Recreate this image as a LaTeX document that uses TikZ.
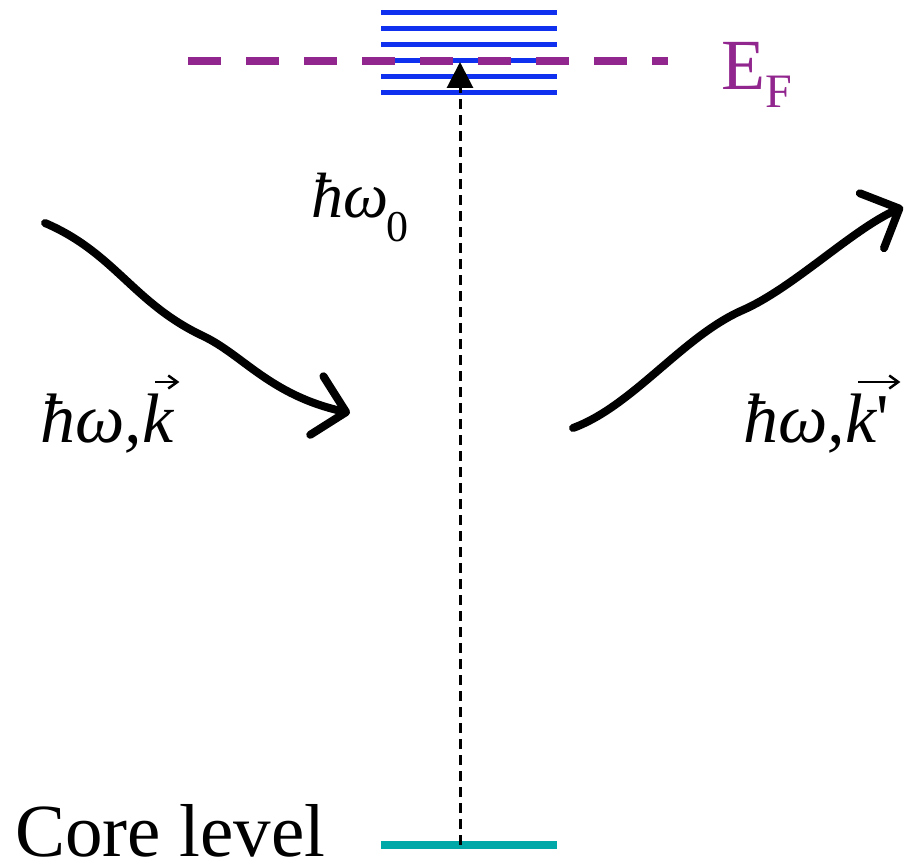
\documentclass[tikz,border=0pt]{standalone}
\usepackage{fontspec}
\setmainfont{Liberation Serif}
\newfontfamily\rawserif{Liberation Serif}
\usetikzlibrary{arrows.meta}
\definecolor{bandblue}{RGB}{16,48,240}
\definecolor{fermipurple}{RGB}{146,38,143}
\definecolor{coreteal}{RGB}{0,168,168}
% vector accent: #1 = shift from glyph start, #2 = arrow length, #3 = text under it
\newcommand{\vecover}[3]{\rlap{\kern#1\raisebox{60pt}{\tikz[x=1pt,y=1pt,baseline=0pt]{\draw[black,line width=2.5pt,line cap=butt,-{Straight Barb[length=9pt,width=13pt]}] (0,0) -- (#2,0);}}}#3}
\begin{document}
\begin{tikzpicture}[x=1pt,y=-1pt,
  band/.style={bandblue,line width=5pt},
  fermi/.style={fermipurple,line width=8pt,dash pattern=on 33pt off 25pt},
  corelvl/.style={coreteal,line width=8pt},
  excite/.style={black,line width=3pt,dash pattern=on 10pt off 6pt,-{Triangle[length=26pt,width=26pt]}},
  photon/.style={black,line width=8pt,line cap=round,line join=round,-{Straight Barb[length=30pt,width=60pt,line cap=round,line join=round]}},
  lbl/.style={inner sep=0pt,anchor=base west}]
\useasboundingbox (0,0) rectangle (906,864);
% conduction band levels
\foreach \y in {13,29,45,61,77,93} \draw[band] (381,\y) -- (557,\y);
% Fermi level
\coordinate (fl) at (188,61);
\coordinate (fr) at (668,61);
\draw[fermi] (fl) -- (fr);
\node[lbl,text=fermipurple,font=\fontsize{72}{80}\selectfont] (ef) at (721,90) {E\raisebox{-18pt}{\fontsize{48}{50}\selectfont F}};
% core level
\coordinate (cl) at (381,845);
\coordinate (cr) at (557,845);
\draw[corelvl] (cl) -- (cr);
\node[lbl,font=\fontsize{75}{80}\selectfont] (core) at (15,856) {Core level};
% excitation
\coordinate (exfrom) at (460,845);
\coordinate (exto) at (460,62);
\draw[excite] (exfrom) -- (exto);
\node[lbl,font=\fontsize{64}{70}\selectfont] (hw0) at (311,218) {\itshape ħω\kern-2pt\raisebox{-24pt}{\upshape\fontsize{44}{48}\selectfont 0}};
% incoming photon
\coordinate (inA) at (45,223);
\coordinate (inB) at (203,336);
\coordinate (inC) at (350,413);
\draw[photon] (inA) .. controls (115,253) and (133,303) .. (inB)
              .. controls (243,355) and (270,395) .. (inC);
\node[lbl,font=\fontsize{70}{74}\selectfont] (kin) at (40,442) {\itshape ħω,\vecover{12pt}{24}{k}};
% outgoing photon
\coordinate (outA) at (573,428);
\coordinate (outB) at (743,310);
\coordinate (outC) at (903,207);
\draw[photon] (outA) .. controls (633,406) and (683,336) .. (outB)
              .. controls (793,288) and (853,229) .. (outC);
\node[lbl,font=\fontsize{70}{74}\selectfont] (kout) at (743,442) {\itshape ħω,\vecover{12pt}{42}{k}{\upshape\rawserif '}};
\end{tikzpicture}
\end{document}
